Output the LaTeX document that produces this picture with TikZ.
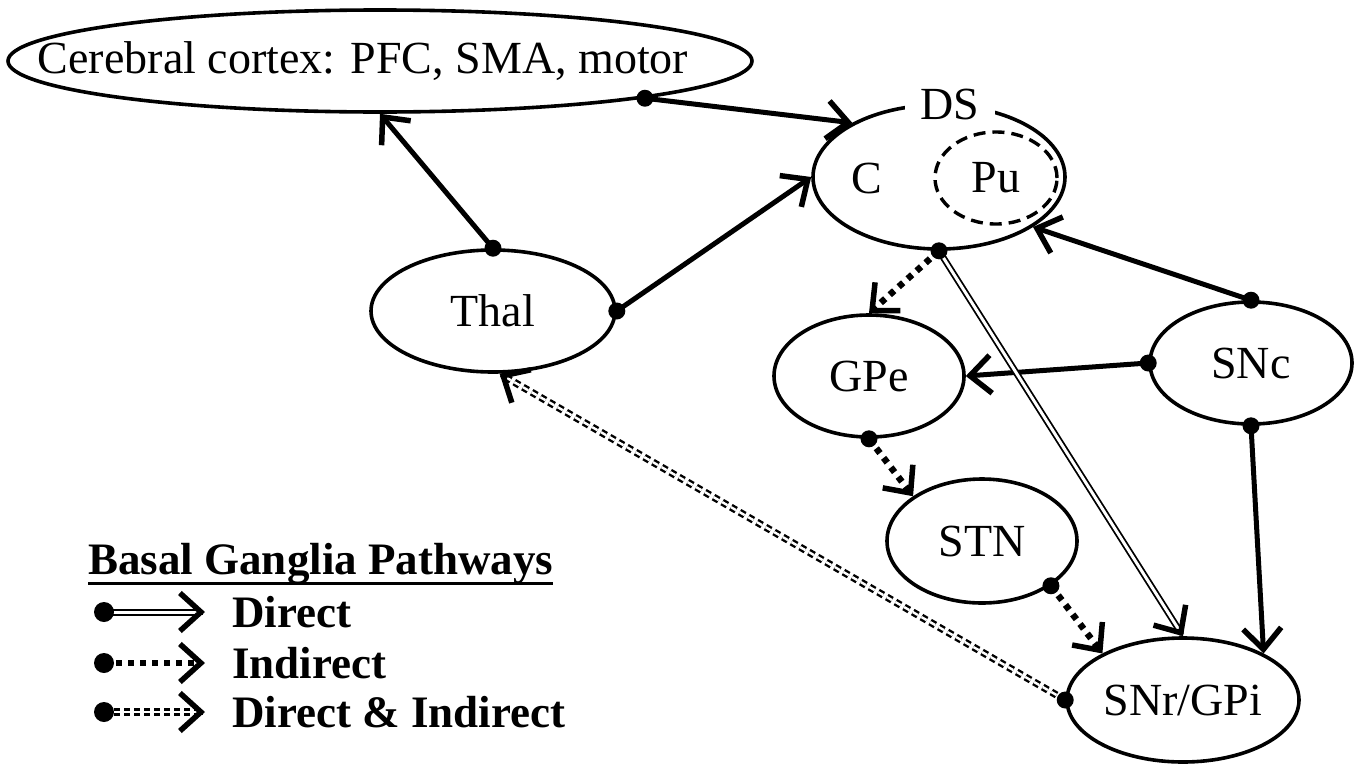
\documentclass[tikz,border=0pt]{standalone}
\usepackage{fontspec}
\setmainfont{Liberation Serif}
\usetikzlibrary{shapes.geometric,arrows.meta,calc}
\tikzset{
  bgfont/.style={font=\fontsize{46}{52}\selectfont},
  legfont/.style={font=\fontsize{45}{50}\selectfont\bfseries},
  region/.style={ellipse, draw, line width=3.6pt, inner sep=0pt, bgfont},
  vbarb/.tip={Straight Barb[length=21pt,width=38pt,line width=5.5pt]},
  solidlink/.style={line width=5pt, -vbarb},
  indirect/.style={line width=6.5pt, dash pattern=on 6pt off 6pt, -vbarb},
  directln/.style={double=white, line width=1.8pt, double distance=3pt},
  bothln/.style={double=white, line width=2.4pt, double distance=2.4pt, dash pattern=on 6pt off 4pt},
  tiponly/.style={line width=5pt, -vbarb, shorten <=10pt},
  dotmark/.style={fill=black},
}
\begin{document}
\begin{tikzpicture}[x=1pt,y=-1pt]
\useasboundingbox (0,0) rectangle (1360,763);
% regions
\node[region, inner xsep=-80pt, minimum width=744pt, minimum height=102pt] (cortex) at (380,61) {\hspace*{-34pt}Cerebral cortex: PFC, SMA, motor};
\node[region, minimum width=252pt, minimum height=144pt] (ds) at (939,177) {};
\node[region, dash pattern=on 12pt off 7pt, line width=3.4pt, minimum width=122pt, minimum height=92pt] (pu) at (996,178) {Pu};
\node[bgfont, inner sep=0pt] (c) at (867,178) {C};
\node[bgfont, fill=white, inner xsep=16pt, inner ysep=0pt] (dslabel) at (950,104) {DS};
\node[region, minimum width=244pt, minimum height=122pt] (thal) at (493,311) {Thal};
\node[region, minimum width=190pt, minimum height=122pt] (gpe) at (869,376) {GPe};
\node[region, minimum width=202pt, minimum height=122pt] (snc) at (1251,363) {SNc};
\node[region, minimum width=190pt, minimum height=124pt] (stn) at (982,541) {STN};
\node[region, minimum width=232pt, minimum height=124pt] (snr) at (1183,700) {SNr/GPi};
% connectors
\draw[solidlink] (cortex.-8) -- (ds.148);
\draw[solidlink] (thal.north) -- (cortex.south);
\draw[solidlink] (thal.east) -- (ds.west);
\draw[solidlink] (snc.north) -- (ds.-28);
\draw[solidlink] (snc.west) -- (gpe.east);
\draw[solidlink] (snc.south) -- (snr.30);
\draw[indirect] (ds.south) -- (gpe.north);
\draw[indirect] (gpe.south) -- (stn.147);
\draw[indirect] (stn.-33) -- (snr.150);
\draw[directln, shorten >=4pt] (ds.south) -- (snr.north);
\draw[tiponly] ($(snr.north)!12pt!(ds.south)$) -- (snr.north);
\draw[bothln, shorten >=4pt] (snr.west) -- (thal.-84);
\draw[tiponly] ($(thal.-84)!12pt!(snr.west)$) -- (thal.-84);
% dots
\foreach \p in {cortex.-8, thal.north, thal.east, snc.north, snc.west, snc.south, ds.south, gpe.south, stn.-33, snr.west}
  \fill[dotmark] (\p) circle (8.5pt);
% legend
\node[legfont, inner sep=0pt, anchor=base west] (hdr) at (88,574) {Basal Ganglia Pathways};
\draw[line width=3pt] ([yshift=-9pt]hdr.base west) -- ([yshift=-9pt]hdr.base east);
\coordinate (l1a) at (104,612); \coordinate (l1b) at (205,612);
\coordinate (l2a) at (104,663); \coordinate (l2b) at (205,663);
\coordinate (l3a) at (104,712); \coordinate (l3b) at (205,712);
\draw[directln, line width=2pt, shorten >=4pt] (l1a) -- (l1b);
\draw[tiponly] ($(l1b)!12pt!(l1a)$) -- (l1b);
\draw[indirect] (l2a) -- (l2b);
\draw[bothln, shorten >=4pt] (l3a) -- (l3b);
\draw[tiponly] ($(l3b)!12pt!(l3a)$) -- (l3b);
\foreach \p in {l1a, l2a, l3a} \fill[dotmark] (\p) circle (10pt);
\node[legfont, inner sep=0pt, anchor=base west] (t1) at (232,627) {Direct};
\node[legfont, inner sep=0pt, anchor=base west] (t2) at (232,678) {Indirect};
\node[legfont, inner sep=0pt, anchor=base west] (t3) at (232,727) {Direct \& Indirect};
\end{tikzpicture}
\end{document}
